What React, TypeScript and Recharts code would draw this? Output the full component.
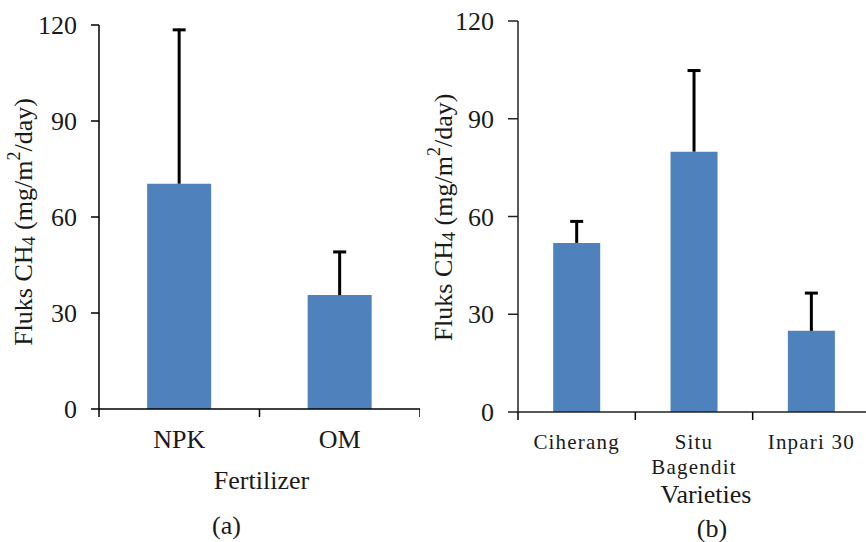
import React from "react";
import { BarChart, Bar, XAxis, YAxis } from "recharts";

// Panel (a): fertilizer treatments
const fertilizers = ["NPK", "OM"];
const fertilizerFlux = [70.4, 35.6];
const fertilizerErr = [48.4, 13.8];

// Panel (b): rice varieties
const varieties = ["Ciherang", "Situ Bagendit", "Inpari 30"];
const varietyFlux = [51.9, 79.9, 24.9];
const varietyErr = [6.9, 25.2, 11.9];

const yTicks = [0, 30, 60, 90, 120];

const FONT = "'Liberation Serif', 'Times New Roman', serif";
const BLUE = "#4F81BD";
const INK = "#1a1a1a";

const fertData = fertilizers.map((name, i) => ({ name, flux: fertilizerFlux[i], err: fertilizerErr[i] }));
const varData = varieties.map((name, i) => ({ name, flux: varietyFlux[i], err: varietyErr[i] }));

// error bar drawn on top of the stacked value bar (upper side only)
const ErrShape = (props: any) => {
  const { x, y, width, height } = props;
  if (height == null || isNaN(height)) return null;
  const cx = x + width / 2;
  return (
    <g>
      <line x1={cx} x2={cx} y1={y} y2={y + height} stroke="#000" strokeWidth={3} />
      <line x1={cx - 6.5} x2={cx + 6.5} y1={y + 1} y2={y + 1} stroke="#000" strokeWidth={3} />
    </g>
  );
};

// x tick: label in band centre, tick marks at band edges
const makeTick = (count: number, fontSize: number, spacing: number, dy: number, lineH: number) => (props: any) => {
  const { x, y, payload } = props;
  const off = payload.offset ?? 0;
  const label = String(payload.value);
  // long names wrap onto two lines like the original
  const lines = label.length > 10 ? label.split(" ") : [label];
  return (
    <g>
      <line x1={x - off} x2={x - off} y1={y} y2={y + 8} stroke="#000" strokeWidth={1.5} />
      {payload.index === count - 1 && (
        <line x1={x + off} x2={x + off} y1={y} y2={y + 8} stroke="#000" strokeWidth={1.5} />
      )}
      <text x={x} y={y + dy} textAnchor="middle" fill={INK} style={{ fontSize, fontFamily: FONT, letterSpacing: spacing }}>
        {lines.map((l, i) => (
          <tspan key={i} x={x} dy={i === 0 ? 0 : lineH}>{l}</tspan>
        ))}
      </text>
    </g>
  );
};

const yLabel = (cx: number, shift: number) => (props: any) => {
  const vb = props.viewBox || { y: 0, height: 0 };
  const cy = vb.y + vb.height / 2 + shift;
  return (
    <text
      x={cx}
      y={cy}
      transform={`rotate(-90 ${cx} ${cy})`}
      textAnchor="middle"
      dominantBaseline="central"
      fill={INK}
      style={{ fontSize: 26, fontFamily: FONT }}
    >
      Fluks CH
      <tspan dy={6} fontSize={18}>4</tspan>
      <tspan dy={-6}> (mg/m</tspan>
      <tspan dy={-9} fontSize={18}>2</tspan>
      <tspan dy={9}>/day)</tspan>
    </text>
  );
};

const xLabel = (title: string, panel: string, dxTitle: number, dyTitle: number, dxPanel: number, dyPanel: number) => (props: any) => {
  const vb = props.viewBox || { x: 0, y: 0, width: 0 };
  const mid = vb.x + vb.width / 2;
  return (
    <g fill={INK} style={{ fontSize: 26, fontFamily: FONT }}>
      <text x={mid + dxTitle} y={vb.y + dyTitle} textAnchor="middle">{title}</text>
      <text x={mid + dxPanel} y={vb.y + dyPanel} textAnchor="middle">{panel}</text>
    </g>
  );
};

const yTickStyle = { fontSize: 26, fontFamily: FONT, fill: INK };

export default function App() {
  return (
    <div style={{ position: "absolute", left: 0, top: 0, width: 866, height: 542, overflow: "hidden", background: "#fff" }}>
      <div style={{ position: "absolute", left: 0, top: 0 }}>
        <BarChart width={420} height={542} data={fertData} margin={{ top: 25, right: 0, bottom: 0, left: 0 }} barCategoryGap="30%">
          <XAxis
            dataKey="name"
            height={133}
            axisLine={{ stroke: "#000", strokeWidth: 1.5 }}
            tickLine={false}
            tickSize={0}
            tickMargin={0}
            interval={0}
            tick={makeTick(fertilizers.length, 26, 0, 39, 27)}
            label={{ content: xLabel("Fertilizer", "(a)", 2, 80, -33, 125) }}
          />
          <YAxis
            width={99}
            domain={[0, 120]}
            ticks={yTicks}
            interval={0}
            axisLine={{ stroke: "#000", strokeWidth: 1.5 }}
            tickLine={{ stroke: "#000", strokeWidth: 1.5 }}
            tickSize={8}
            tickMargin={14}
            tick={yTickStyle}
            label={{ content: yLabel(23, 5) }}
          />
          <Bar dataKey="flux" stackId="s" fill={BLUE} isAnimationActive={false} />
          <Bar dataKey="err" stackId="s" fill="none" shape={ErrShape} isAnimationActive={false} />
        </BarChart>
      </div>
      <div style={{ position: "absolute", left: 420, top: 0 }}>
        <BarChart width={450} height={542} data={varData} margin={{ top: 21, right: 0, bottom: 0, left: 0 }} barCategoryGap="30%">
          <XAxis
            dataKey="name"
            height={130}
            axisLine={{ stroke: "#222", strokeWidth: 1.5 }}
            tickLine={false}
            tickSize={0}
            tickMargin={0}
            interval={0}
            tick={makeTick(varieties.length, 21, 1.2, 37, 25)}
            label={{ content: xLabel("Varieties", "(b)", 12, 91, 18, 125) }}
          />
          <YAxis
            width={98}
            domain={[0, 120]}
            ticks={yTicks}
            interval={0}
            axisLine={{ stroke: "#222", strokeWidth: 1.5 }}
            tickLine={{ stroke: "#222", strokeWidth: 1.5 }}
            tickSize={10}
            tickMargin={14}
            tick={yTickStyle}
            label={{ content: yLabel(23, 1) }}
          />
          <Bar dataKey="flux" stackId="s" fill={BLUE} isAnimationActive={false} />
          <Bar dataKey="err" stackId="s" fill="none" shape={ErrShape} isAnimationActive={false} />
        </BarChart>
      </div>
    </div>
  );
}
